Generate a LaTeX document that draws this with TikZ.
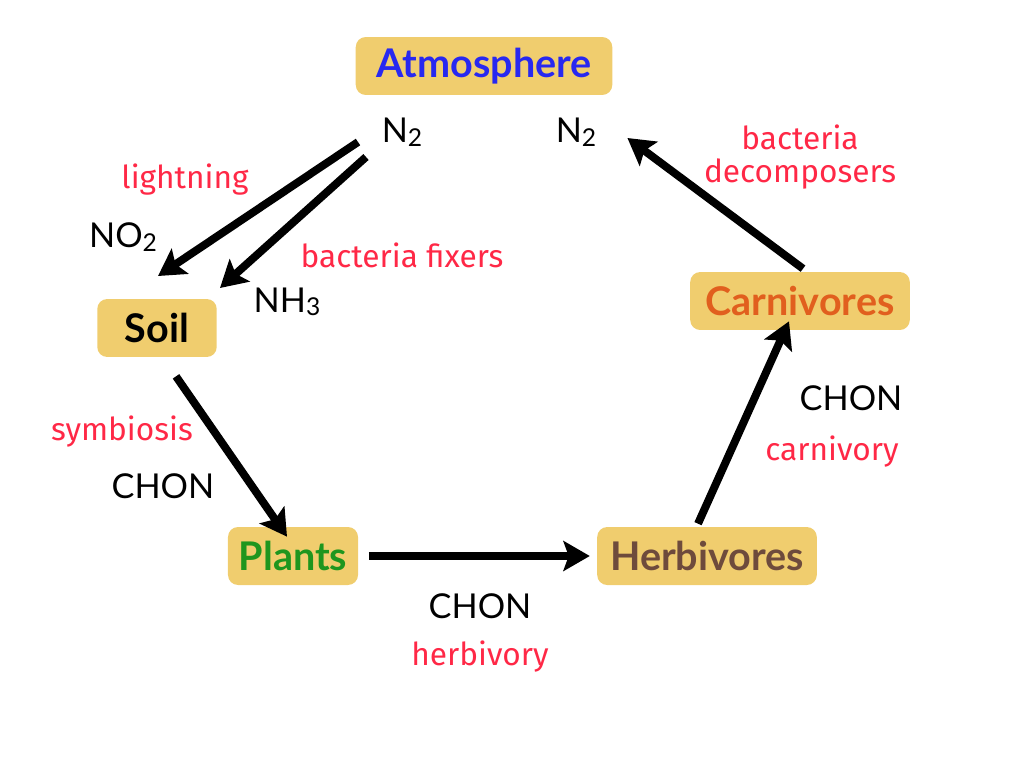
\documentclass[tikz,border=0pt]{standalone}
\usepackage{fontspec}
\setmainfont{Lato}
\newfontfamily\handfont{Fira Sans}
\usetikzlibrary{arrows.meta}
\definecolor{boxgold}{RGB}{240,205,110}
\definecolor{atmblue}{RGB}{40,40,240}
\definecolor{labred}{RGB}{255,40,70}
\definecolor{carnorange}{RGB}{225,95,30}
\definecolor{plantgreen}{RGB}{30,150,30}
\definecolor{herbbrown}{RGB}{110,75,60}
\newcommand{\chemsub}[1]{\raisebox{-0.2ex}{\fontsize{14}{14}\selectfont #1}}

\begin{document}
\begin{tikzpicture}[x=0.02cm,y=-0.02cm,
  pool/.style={fill=boxgold,rounded corners=5.7pt,minimum height=33pt,
    inner sep=2pt,font=\fontsize{22.5}{25}\selectfont\bfseries},
  chem/.style={font=\fontsize{19.5}{21}\selectfont,text=black},
  proc/.style={font=\handfont\fontsize{18}{20}\selectfont,text=labred,align=center},
  flow/.style={line width=4.5pt,-{Stealth[length=15pt,width=17pt,inset=3pt]}}]
\useasboundingbox (0,0) rectangle (1024,768);
%
\node[pool,minimum width=146pt,text=atmblue] (atm) at (484,66) {Atmosphere};
\node[pool,minimum width=68pt] (soil) at (157,328) {Soil};
\node[pool,minimum width=74pt,text=plantgreen] (plants) at (293,556) {Plants};
\node[pool,minimum width=125pt,text=herbbrown] (herb) at (707,556) {Herbivores};
\node[pool,minimum width=125pt,text=carnorange] (carn) at (800,301) {Carnivores};
%
\node[chem] (n2in) at (402,132) {N\chemsub{2}};
\node[chem] (n2out) at (576,132) {N\chemsub{2}};
\node[chem] (no2) at (123,237) {NO\chemsub{2}};
\node[chem] (nh3) at (287,302) {NH\chemsub{3}};
\node[chem] (chonsp) at (163,486) {CHON};
\node[chem] (chonhp) at (480,606) {CHON};
\node[chem] (chonch) at (851,398) {CHON};
%
\node[proc] (light) at (185,180) {lightning};
\node[proc] (fix) at (402,255) {bacteria fixers};
\node[proc] (decomp) at (800,157) {bacteria\\[-1pt]decomposers};
\node[proc] (symb) at (122,432) {symbiosis};
\node[proc] (herbv) at (480,657) {herbivory};
\node[proc] (carnv) at (832,452) {carnivory};
%
\coordinate (fixa) at (358,142);
\coordinate (fixb) at (366,157);
\coordinate (soila) at (158,276);
\coordinate (soilb) at (220,288);
%
\draw[flow] (fixa) -- (soila);
\draw[flow] (fixb) -- (soilb);
\draw[flow] ([shift={(19,19)}]soil.south) -- ([shift={(-6,10)}]plants.north);
\draw[flow] ([xshift=6pt]plants.east) -- ([xshift=-4pt]herb.west);
\draw[flow] ([shift={(-9,-3)}]herb.north) -- ([shift={(-11,-9)}]carn.south);
\draw[flow] ([shift={(3,-3)}]carn.north) -- ([shift={(25,6)}]n2out.east);
\end{tikzpicture}
\end{document}
